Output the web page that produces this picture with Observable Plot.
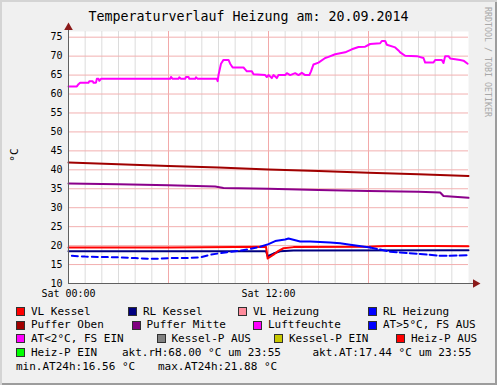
<!DOCTYPE html>
<html><head><meta charset="utf-8">
<script src="https://cdn.jsdelivr.net/npm/d3@7"></script>
<script src="https://cdn.jsdelivr.net/npm/@observablehq/plot@0.6"></script>
<style>
body{margin:0;background:#fff;}
#wrap{position:relative;width:497px;height:385px;background:#f0f0f0;overflow:hidden;font-family:"DejaVu Sans Mono",monospace;color:#000;}
#wrap svg{position:absolute;left:0;top:0;}
.abs{position:absolute;white-space:pre;}
.item{position:absolute;display:flex;align-items:center;height:14px;line-height:14px;font-size:11px;white-space:pre;}
.sw{display:inline-block;width:7px;height:7px;border:1px solid #303030;margin-right:6px;}
#edge{position:absolute;left:0;top:0;width:497px;height:385px;box-shadow:inset 2px 2px 0 #d4d4d4, inset -2px -2px 0 #9c9c9c;pointer-events:none;}
</style></head><body><div id="wrap"></div>
<script>
// ---- data ----
const title = "Temperaturverlauf Heizung am: 20.09.2014";
const yUnit = "°C";
const watermark = "RRDTOOL / TOBI OETIKER";
const yTicks = [10, 15, 20, 25, 30, 35, 40, 45, 50, 55, 60, 65, 70, 75];
const xTickHours = [0, 12];
const xTickLabels = ["Sat 00:00", "Sat 12:00"];
const minorHours = [1,2,3,4,5,7,8,9,10,11,13,14,15,16,17,19,20,21,22,23];
const majorHours = [6, 12, 18];

const luftfeuchte = [[0,62],[0.5,62],[0.6,62.6],[0.7,63],[1.2,63],[1.25,63.4],[1.45,63.4],[1.5,63],[1.65,63],[1.7,64],[1.8,64],[1.85,63.5],[1.95,64],[6.1,64],[6.15,64.5],[6.25,64],[6.6,64],[6.65,64.4],[6.75,64],[7.0,64],[7.05,64.5],[7.2,64.5],[7.25,64],[7.6,64],[7.65,64.4],[7.75,64],[8.9,64],[8.95,63.4],[9.0,65],[9.05,66],[9.15,68],[9.3,69],[9.6,69],[9.7,68],[9.85,67],[10.5,67],[10.6,66.5],[10.7,66],[11.0,66],[11.1,65.2],[11.8,65],[11.9,64.5],[12.0,65],[12.2,64.2],[12.3,65],[12.5,64.2],[12.6,65],[13.0,65],[13.1,65.5],[13.3,65],[13.6,65.5],[13.8,65],[14.0,65.6],[14.2,65],[14.45,65],[14.55,66],[14.7,67.8],[15.0,68.3],[15.4,69.5],[15.6,69.8],[16.0,70.5],[16.6,71],[17.0,71.8],[17.4,72.4],[17.8,72.5],[18.1,73.2],[18.7,73.4],[18.8,74],[19.0,74],[19.1,73],[19.6,72.3],[19.8,71.5],[19.9,71],[20.2,70.1],[20.9,70],[21.3,69.5],[21.4,68.3],[21.9,68.3],[22.0,69],[22.4,69],[22.5,68.2],[22.6,70],[22.8,70],[22.9,69.4],[23.5,69],[23.7,68.8],[23.95,68]];
const pufferOben = [[0,41.9],[3,41.5],[6,41.0],[9,40.6],[12,40.1],[15,39.7],[18,39.2],[21,38.8],[24,38.4]];
const pufferMitte = [[0,36.4],[3,36.2],[6,35.9],[8.8,35.6],[9.3,35.2],[12,35.0],[15,34.7],[18,34.4],[21,34.2],[22.3,34.0],[22.5,33.1],[24,32.6]];
const vlKessel = [[0,19.5],[6,19.5],[10,19.6],[11.85,19.7],[11.95,16.6],[12.3,17.6],[12.6,18.6],[12.9,19.3],[13.5,19.6],[18,19.7],[19,19.9],[22,19.9],[24,19.8]];
const rlKessel = [[0,18.5],[11.85,18.5],[11.95,17.2],[12.3,17.9],[12.7,18.5],[13.5,18.7],[24,18.8]];
const aussenTemp = [[0.2,17.3],[1,17.1],[2,17.0],[3,16.9],[4,16.7],[5,16.5],[5.5,16.56],[6,16.7],[7,16.7],[7.9,16.9],[8.5,17.6],[9.4,18.2],[10.3,18.7],[10.9,19.1],[11.5,19.7],[12,20.4],[12.4,21.2],[13,21.6],[13.2,21.88],[13.9,21.1],[14.5,21.1],[15.7,20.8],[16.3,20.6],[16.9,20.2],[18.1,19.5],[19.3,18.4],[19.9,18.2],[21.1,17.8],[22.3,17.3],[23.9,17.44]];

const legendLabels = [
  ["VL Kessel", "RL Kessel", "VL Heizung", "RL Heizung"],
  ["Puffer Oben", "Puffer Mitte", "Luftfeuchte", "AT>5°C, FS AUS"],
  ["AT<2°C, FS EIN", "Kessel-P AUS", "Kessel-P EIN", "Heiz-P AUS"],
  ["Heiz-P EIN"]
];
const legendColors = [
  ["#ff0000", "#000080", "#ff8c9c", "#0000ff"],
  ["#a00000", "#800080", "#ff00ff", "#0000ff"],
  ["#ff00ff", "#808080", "#c8c800", "#ff0000"],
  ["#00ff00"]
];
const statTexts = [
  ["akt.rH:68.00 °C um 23:55", "akt.AT:17.44 °C um 23:55"],
  ["min.AT24h:16.56 °C", "max.AT24h:21.88 °C"]
];

// ---- layout ----
const legendX = [[16,128,238,368],[16,131.5,253,368],[16,156.5,274,396],[16]];
const legendRowY = [311.5, 325, 338.5, 352.5, 366.5];
const statX = [[122,312.5],[16,158]];
const statRow = [3, 4];

const wrap = document.getElementById("wrap");
const split = (arr, lo, hi) => arr.filter(d => d[0] >= lo && d[0] <= hi);
const ln = (data, stroke, extra = {}) => Plot.line(data, {x: d => d[0], y: d => d[1], stroke, strokeWidth: 2, ...extra});

const plot = Plot.plot({
  width: 497, height: 300,
  marginLeft: 68, marginRight: 29, marginTop: 31, marginBottom: 17,
  style: {background: "transparent", fontFamily: "DejaVu Sans Mono, monospace", fontSize: "10px", color: "#000", overflow: "visible"},
  x: {domain: [0, 24], ticks: xTickHours, tickFormat: h => xTickLabels[xTickHours.indexOf(h)], tickSize: 0, tickPadding: 6, label: null},
  y: {domain: [10, 76.5], ticks: yTicks, tickSize: 0, tickPadding: 6, label: null},
  marks: [
    Plot.frame({fill: "white", stroke: null}),
    Plot.ruleX(minorHours, {stroke: "#dcdcdc", strokeWidth: 1}),
    Plot.ruleX(majorHours, {stroke: "#f2a9a9", strokeWidth: 1}),
    Plot.ruleY(yTicks, {stroke: "#f2b0b0", strokeWidth: 1}),
    ln(pufferOben, "#a00000"),
    ln(pufferMitte, "#8b008b"),
    ln(luftfeuchte, "#ff00ff"),
    ln(rlKessel, "#000080"),
    ln(vlKessel, "#ff0000"),
    ln(split(aussenTemp, 0, 11.5), "#0000ff", {strokeDasharray: "6,4"}),
    ln(split(aussenTemp, 11.5, 18.1), "#0000ff"),
    ln(split(aussenTemp, 18.1, 24), "#0000ff", {strokeDasharray: "7,3"}),
    Plot.ruleX([0], {stroke: "#606060", insetTop: -3}),
    Plot.ruleY([10], {stroke: "#606060", insetRight: -6}),
    Plot.dot([0], {frameAnchor: "top-left", symbol: "triangle", r: 3.2, fill: "#8b1a1a", stroke: null, dy: -4}),
    Plot.dot([0], {frameAnchor: "bottom-right", symbol: "triangle", r: 3.2, fill: "#8b1a1a", stroke: null, dx: 7, rotate: 90})
  ]
});
wrap.appendChild(plot);

function addText(txt, css) {
  const d = document.createElement("div");
  d.className = "abs";
  d.textContent = txt;
  Object.assign(d.style, css);
  wrap.appendChild(d);
  return d;
}
addText(title, {left: "0", width: "497px", top: "8px", textAlign: "center", fontSize: "13.3px", lineHeight: "18px"});
addText(yUnit, {left: "14px", top: "155px", fontSize: "11px", transform: "translate(-50%,-50%) rotate(-90deg)"});
addText(watermark, {left: "488px", top: "62px", fontSize: "8.3px", color: "#a8a8a8", transform: "translate(-50%,-50%) rotate(90deg)"});

legendLabels.forEach((row, r) => row.forEach((lab, i) => {
  const d = document.createElement("div");
  d.className = "item";
  d.style.left = legendX[r][i] + "px";
  d.style.top = (legendRowY[r] - 7) + "px";
  const sw = document.createElement("span");
  sw.className = "sw";
  sw.style.background = legendColors[r][i];
  d.appendChild(sw);
  d.appendChild(document.createTextNode(lab));
  wrap.appendChild(d);
}));
statTexts.forEach((row, r) => row.forEach((t, i) => {
  const d = document.createElement("div");
  d.className = "item";
  d.style.left = statX[r][i] + "px";
  d.style.top = (legendRowY[statRow[r]] - 7) + "px";
  d.textContent = t;
  wrap.appendChild(d);
}));
const edge = document.createElement("div");
edge.id = "edge";
wrap.appendChild(edge);
</script>
</body></html>
